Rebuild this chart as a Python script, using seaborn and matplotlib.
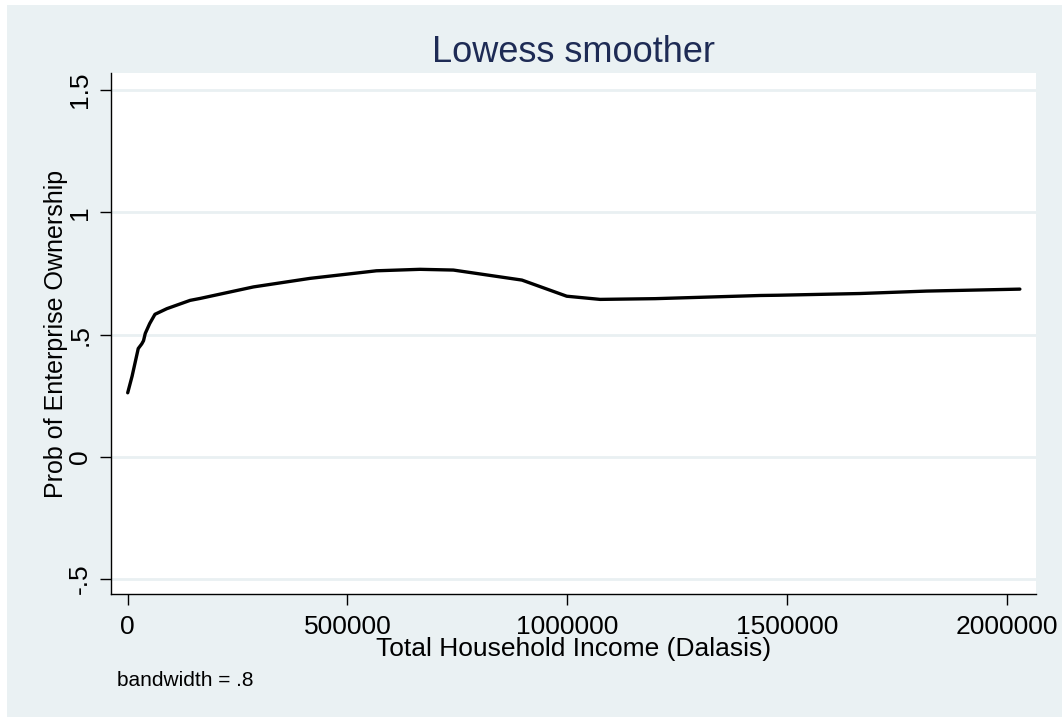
import matplotlib
matplotlib.use("Agg")
import matplotlib.pyplot as plt
from matplotlib.patches import Rectangle
import seaborn as sns
import pandas as pd

# Lowess fit of enterprise ownership on household income
income = [0, 10000, 24000, 32000, 36000, 40000, 50000, 62000, 89000, 142000,
          165000, 286000, 415000, 566000, 665000, 741000, 897000, 999000,
          1075000, 1200000, 1440000, 1480000, 1666000, 1818000, 2030000]
prob_owner = [0.262, 0.33, 0.443, 0.462, 0.475, 0.505, 0.545, 0.583, 0.606, 0.640,
              0.648, 0.695, 0.730, 0.761, 0.767, 0.764, 0.723, 0.657,
              0.644, 0.647, 0.660, 0.661, 0.668, 0.678, 0.686]

x_ticks = [0, 500000, 1000000, 1500000, 2000000]
x_tick_labels = ["0", "500000", "1000000", "1500000", "2000000"]
y_ticks = [-0.5, 0, 0.5, 1, 1.5]
y_tick_labels = ["-.5", "0", ".5", "1", "1.5"]

df = pd.DataFrame({"income": income, "prob": prob_owner})

sns.set_style("white")
plt.rcParams["font.family"] = ["Liberation Sans", "DejaVu Sans"]

W, H = 1062, 717
BG = "#EAF1F3"
GRID = "#E9F0F2"

fig = plt.figure(figsize=(W / 100, H / 100), dpi=100, facecolor="white")
fig.patches.append(Rectangle((7 / W, 0), 1 - 7 / W, 1 - 5 / H,
                             transform=fig.transFigure, facecolor=BG,
                             edgecolor="none", zorder=-10))

left, right, top, bottom = 111, 1036, 73, 594
ax = fig.add_axes([left / W, (H - bottom) / H, (right - left) / W, (bottom - top) / H])
ax.set_facecolor("white")

sns.lineplot(data=df, x="income", y="prob", ax=ax, color="black",
             linewidth=2.4, sort=False, estimator=None)

ax.set_xlim(-38000, 2066700)
ax.set_ylim(-0.561, 1.570)

ax.set_yticks(y_ticks)
ax.set_yticklabels(y_tick_labels, rotation=90, va="center", fontsize=19)
ax.set_xticks(x_ticks)
ax.set_xticklabels(x_tick_labels, fontsize=19)

ax.grid(axis="y", color=GRID, linewidth=2)
ax.grid(axis="x", visible=False)
ax.set_axisbelow(True)

for side in ["top", "right"]:
    ax.spines[side].set_visible(False)
for side in ["left", "bottom"]:
    ax.spines[side].set_color("black")
    ax.spines[side].set_linewidth(1)

ax.tick_params(axis="both", which="major", direction="out", length=8, width=1,
               color="black", labelcolor="black", bottom=True, left=True)
ax.tick_params(axis="x", pad=7)
ax.tick_params(axis="y", pad=5.5)

ax.set_xlabel("Total Household Income (Dalasis)", fontsize=19, labelpad=-1,
              color="black")
ax.set_ylabel("Prob of Enterprise Ownership", fontsize=18, labelpad=0,
              color="black")

fig.text(573.5 / W, 1 - 62 / H, "Lowess smoother", fontsize=26,
         color="#1E2B55", ha="center", va="baseline")
fig.text(117 / W, 1 - 686 / H, "bandwidth = .8", fontsize=15,
         color="black", ha="left", va="baseline")

fig.savefig("out.png", dpi=100, facecolor=fig.get_facecolor())
